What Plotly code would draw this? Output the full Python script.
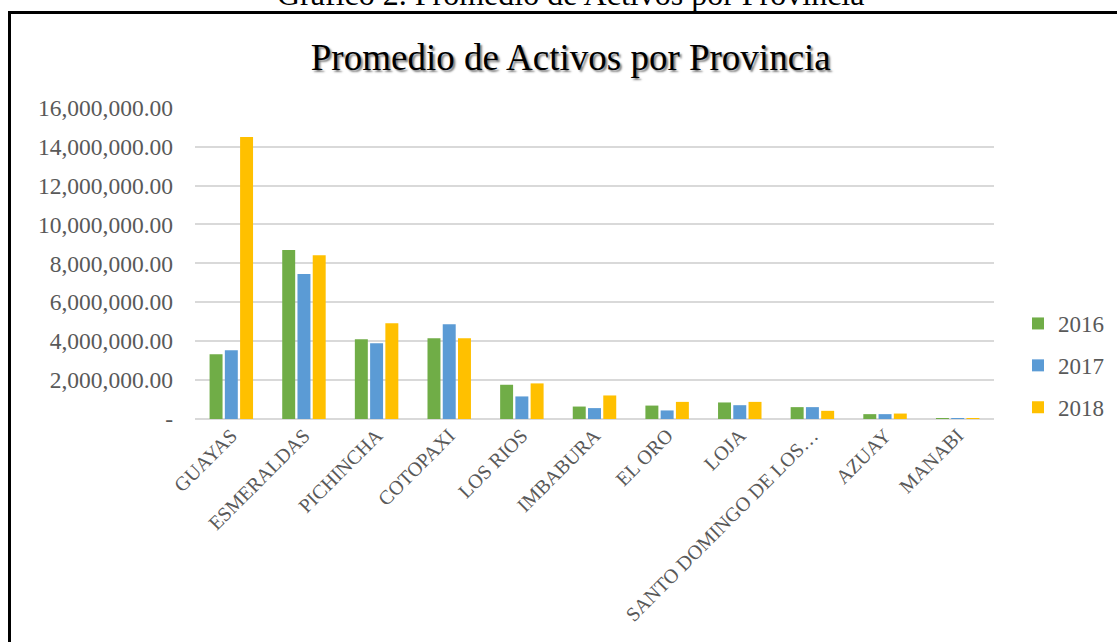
import plotly.graph_objects as go

provincias = ["GUAYAS", "ESMERALDAS", "PICHINCHA", "COTOPAXI", "LOS RIOS", "IMBABURA",
              "EL ORO", "LOJA", "SANTO DOMINGO DE LOS…", "AZUAY", "MANABI"]
v2016 = [3330000, 8680000, 4100000, 4150000, 1760000, 640000, 690000, 850000, 610000, 250000, 20000]
v2017 = [3530000, 7450000, 3890000, 4870000, 1160000, 560000, 440000, 710000, 610000, 250000, 15000]
v2018 = [14490000, 8420000, 4920000, 4150000, 1830000, 1210000, 880000, 880000, 420000, 280000, 15000]
years = ["2016", "2017", "2018"]
colors = ["#70AD47", "#5B9BD5", "#FFC000"]
tick_vals = [0, 2e6, 4e6, 6e6, 8e6, 10e6, 12e6, 14e6, 16e6]
tick_text = ["-", "2,000,000.00", "4,000,000.00", "6,000,000.00", "8,000,000.00",
             "10,000,000.00", "12,000,000.00", "14,000,000.00", "16,000,000.00"]

serif = "Liberation Serif, Times New Roman, serif"

fig = go.Figure()
for yr, vals, col in zip(years, [v2016, v2017, v2018], colors):
    fig.add_trace(go.Bar(x=provincias, y=vals, name=yr, marker_color=col,
                         marker_line_width=0, legendgroup=yr))

L, R, T, B = 195, 123, 107, 223
W, H = 1117, 642
pw, ph = W - L - R, H - T - B

def px_x(p):
    return (p - L) / pw

def px_y(p):
    return (H - B - p) / ph

fig.update_layout(
    width=W, height=H,
    margin=dict(l=L, r=R, t=T, b=B, pad=0, autoexpand=False),
    paper_bgcolor="white", plot_bgcolor="white",
    barmode="group", bargap=0.37, bargroupgap=0.15,
    title=dict(text="Promedio de Activos por Provincia", x=0.511, xanchor="center",
               y=1 - 57 / H, yanchor="middle",
               font=dict(family=serif, size=37, color="black",
                         shadow="2px 2px 2px rgba(0,0,0,0.5)")),
    xaxis=dict(tickangle=-45, tickfont=dict(family=serif, size=20, color="#595959"),
               showgrid=False, showline=False, ticks="", automargin=False),
    yaxis=dict(range=[0, 16e6 * ph / 311.3], tickvals=tick_vals, ticktext=tick_text,
               tickfont=dict(family=serif, size=23.5, color="#595959"),
               showgrid=True, gridcolor="#d9d9d9", gridwidth=1.6,
               zeroline=True, zerolinecolor="#d9d9d9", zerolinewidth=1.6,
               showline=False, ticks="", ticklabelstandoff=21, automargin=False),
    legend=dict(xref="container", yref="container",
                x=1018 / W, xanchor="left", y=1 - 302 / H, yanchor="top",
                font=dict(family=serif, size=23, color="#595959"),
                tracegroupgap=9, bgcolor="rgba(0,0,0,0)"),
    showlegend=True,
)

fig.add_annotation(text="Gráfico 2. Promedio de Activos por Provincia",
                   xref="paper", yref="paper", x=px_x(570), y=px_y(14),
                   xanchor="center", yanchor="bottom", showarrow=False,
                   font=dict(family=serif, size=32, color="black"))

fig.add_shape(type="line", xref="paper", yref="paper",
              x0=px_x(9.5), x1=px_x(1130), y0=px_y(12.5), y1=px_y(12.5),
              line=dict(color="black", width=3))
fig.add_shape(type="line", xref="paper", yref="paper",
              x0=px_x(9.5), x1=px_x(9.5), y0=px_y(11), y1=px_y(660),
              line=dict(color="black", width=3))

fig.write_html("out.html", config={"displayModeBar": False},
               post_script="document.body.style.margin='0';document.body.style.overflow='hidden';")
